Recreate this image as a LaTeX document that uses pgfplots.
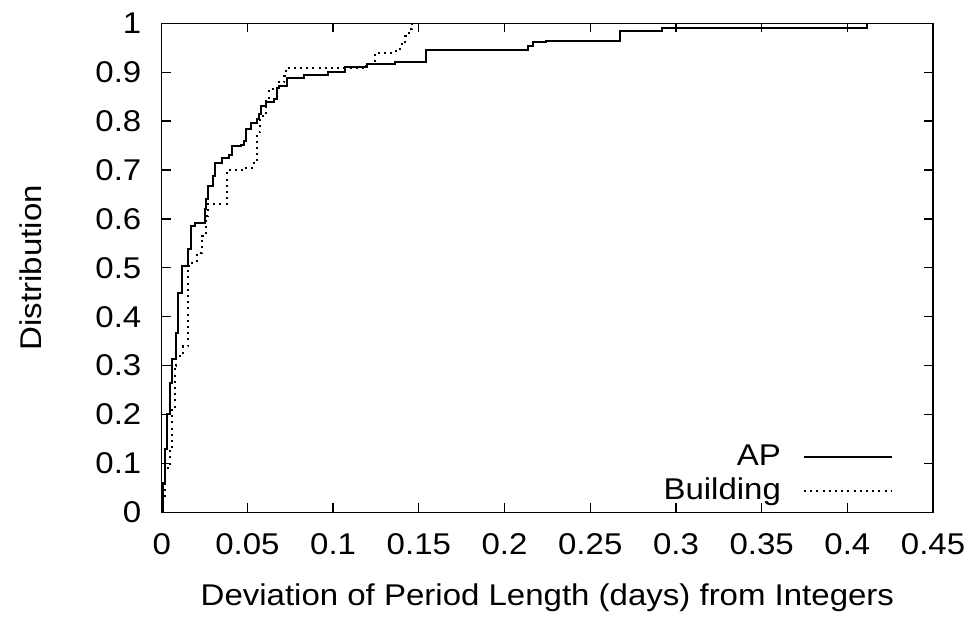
\documentclass[border=0pt]{standalone}
\usepackage{fontspec}
\setmainfont{Liberation Sans}[FakeStretch=1.1]
\usepackage{pgfplots}
\pgfplotsset{compat=1.18}
\usepackage{pgfplotstable}

\pgfplotstableread{
x y
0 0
0.0005 0.06
0.0018 0.13
0.0033 0.20
0.0047 0.265
0.0057 0.313
0.0086 0.367
0.0096 0.449
0.0116 0.504
0.0155 0.538
0.017 0.585
0.0196 0.592
0.025 0.62
0.026 0.64
0.027 0.667
0.030 0.688
0.031 0.715
0.035 0.725
0.039 0.73
0.041 0.749
0.046 0.752
0.048 0.76
0.049 0.783
0.052 0.797
0.0557 0.804
0.0567 0.814
0.058 0.831
0.061 0.838
0.0655 0.845
0.0675 0.868
0.0685 0.872
0.073 0.889
0.083 0.895
0.097 0.90
0.1067 0.911
0.12 0.916
0.136 0.92
0.154 0.945
0.2135 0.954
0.2165 0.961
0.224 0.964
0.2675 0.984
0.292 0.99
0.4116 1.0
}\aptable

\pgfplotstableread{
x y
0 0
0.001 0.03
0.002 0.09
0.0047 0.13
0.006 0.21
0.0076 0.30
0.0086 0.32
0.0125 0.34
0.0155 0.504
0.0175 0.51
0.0204 0.531
0.0233 0.565
0.026 0.606
0.027 0.63
0.038 0.70
0.049 0.705
0.0537 0.72
0.0557 0.777
0.0576 0.81
0.0606 0.845
0.0625 0.865
0.0675 0.879
0.0714 0.892
0.0724 0.909
0.1194 0.913
0.1224 0.92
0.1243 0.94
0.135 0.943
0.139 0.957
0.142 0.974
0.144 0.988
0.146 1.0
}\bldtable

\begin{document}
\begin{tikzpicture}[font=\fontsize{15bp}{18bp}\selectfont]
\begin{axis}[
  scale only axis,
  width=385.65bp, height=244.5bp,
  xmin=0, xmax=0.45, ymin=0, ymax=1,
  xtick={0,0.05,...,0.45},
  ytick={0,0.1,...,1},
  xticklabels={0,0.05,0.1,0.15,0.2,0.25,0.3,0.35,0.4,0.45},
  yticklabels={0,0.1,0.2,0.3,0.4,0.5,0.6,0.7,0.8,0.9,1},
  axis line style={line width=0.65bp},
  every tick/.style={black, line width=0.65bp},
  major tick length=4.5bp,
  minor tick num=0,
  xticklabel style={anchor=base, inner sep=0pt, yshift=-21.35bp},
  yticklabel style={anchor=east, inner sep=0pt, xshift=-10bp},
  xlabel={Deviation of Period Length (days) from Integers},
  ylabel={Distribution},
  xlabel style={at={(axis description cs:0.5,-0.191)}, anchor=base, inner sep=0pt},
  ylabel style={at={(axis description cs:-0.1697,0.5)}, anchor=center, inner sep=0pt},
  clip=false,
  legend plot pos=right,
  legend cell align=right,
  legend image code/.code={\draw[#1] plot coordinates {(0bp,0bp) (22bp,0bp) (44bp,0bp)};},
  legend style={draw=none, fill=none, inner sep=0pt, outer sep=0pt,
    at={(axis description cs:0.948,0.1417)}, anchor=north east,
    column sep=11bp, row sep=3bp,
    nodes={inner sep=0pt, text height=11bp, text depth=3bp}},
]
\addplot[const plot, black, line width=1bp] table[x=x,y=y] {\aptable};
\addlegendentry{AP}
\addplot[const plot, black, line width=1bp, dash pattern=on 1bp off 2.1bp] table[x=x,y=y] {\bldtable};
\addlegendentry{Building}
\path (rel axis cs:-0.2097,-0.2182) rectangle (rel axis cs:1.0557,1.0476);
\end{axis}
\end{tikzpicture}
\end{document}
